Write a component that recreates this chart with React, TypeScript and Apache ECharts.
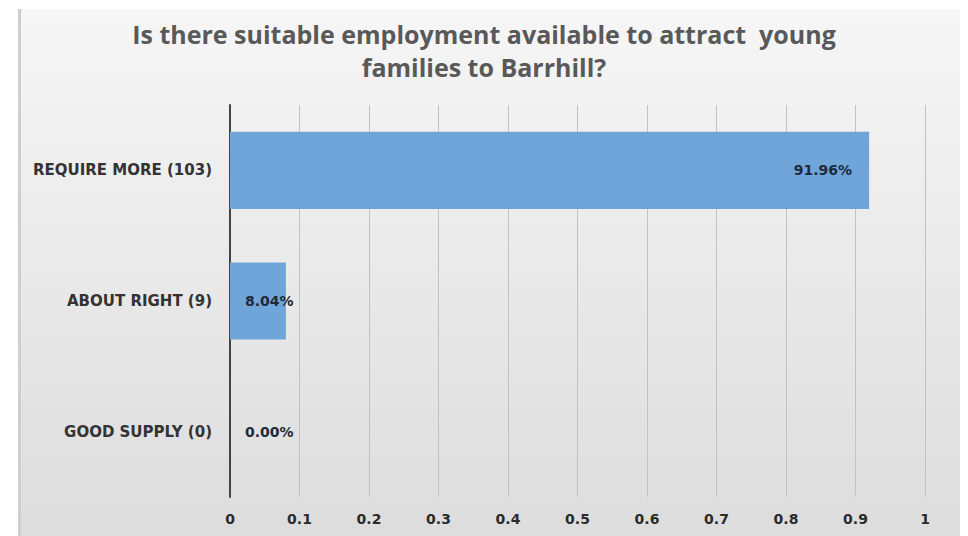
import React, { useEffect, useRef } from "react";
import * as echarts from "echarts";

const titleText = "Is there suitable employment available to attract  young\nfamilies to Barrhill?";
const categories = ["GOOD SUPPLY (0)", "ABOUT RIGHT (9)", "REQUIRE MORE (103)"];
const values = [0, 0.0804, 0.9196];
const valueLabels = ["0.00%", "8.04%", "91.96%"];

export default function App() {
  const ref = useRef<HTMLDivElement>(null);
  useEffect(() => {
    if (!ref.current) return;
    const chart = echarts.init(ref.current, null, { renderer: "svg" });
    const titleFont = "'Open Sans', sans-serif";
    const font = "'DejaVu Sans', sans-serif";
    chart.setOption({
      animation: false,
      backgroundColor: "#ffffff",
      graphic: [
        {
          type: "rect",
          z: -10,
          silent: true,
          shape: { x: 18, y: 9, width: 942, height: 540 },
          style: {
            fill: new echarts.graphic.LinearGradient(0, 0, 0, 1, [
              { offset: 0, color: "#f6f6f6" },
              { offset: 1, color: "#dcdcdc" },
            ]),
          },
        },
        {
          type: "rect",
          z: -9,
          silent: true,
          shape: { x: 18, y: 9, width: 3, height: 540 },
          style: { fill: "#cfcfcf" },
        },
      ],
      title: {
        text: titleText,
        left: "center",
        top: 12,
        textStyle: {
          fontFamily: titleFont,
          fontWeight: "bold",
          fontSize: 25,
          color: "#595959",
          lineHeight: 33,
        },
      },
      grid: { left: 230, right: 43, top: 105, bottom: 39, containLabel: false },
      xAxis: {
        type: "value",
        min: 0,
        max: 1,
        interval: 0.1,
        axisLine: { show: false },
        axisTick: { show: false },
        splitLine: { show: true, lineStyle: { color: "#c2c2c2", width: 1 } },
        axisLabel: {
          fontFamily: font,
          fontWeight: "bold",
          fontSize: 14,
          color: "#2b2b2b",
          margin: 15,
        },
      },
      yAxis: {
        type: "category",
        data: categories,
        axisLine: { show: true, lineStyle: { color: "#444444", width: 2 } },
        axisTick: { show: false },
        axisLabel: {
          fontFamily: font,
          fontWeight: "bold",
          fontSize: 15,
          color: "#333333",
          margin: 18,
        },
      },
      series: [
        {
          type: "bar",
          data: values.map((v, i) => ({
            value: v,
            label: {
              position: i === 2 ? "insideRight" : "insideLeft",
              offset: i === 2 ? [-12, 0] : [10, 0],
            },
          })),
          barCategoryGap: "41%",
          itemStyle: { color: "#6fa5d9" },
          label: {
            show: true,
            formatter: (p: any) => valueLabels[p.dataIndex],
            fontFamily: font,
            fontWeight: "bold",
            fontSize: 14,
            color: "#1f2a3a",
          },
        },
      ],
    });
    return () => chart.dispose();
  }, []);
  return (
    <div
      ref={ref}
      style={{ position: "fixed", left: 0, top: 0, width: 968, height: 536 }}
    />
  );
}
